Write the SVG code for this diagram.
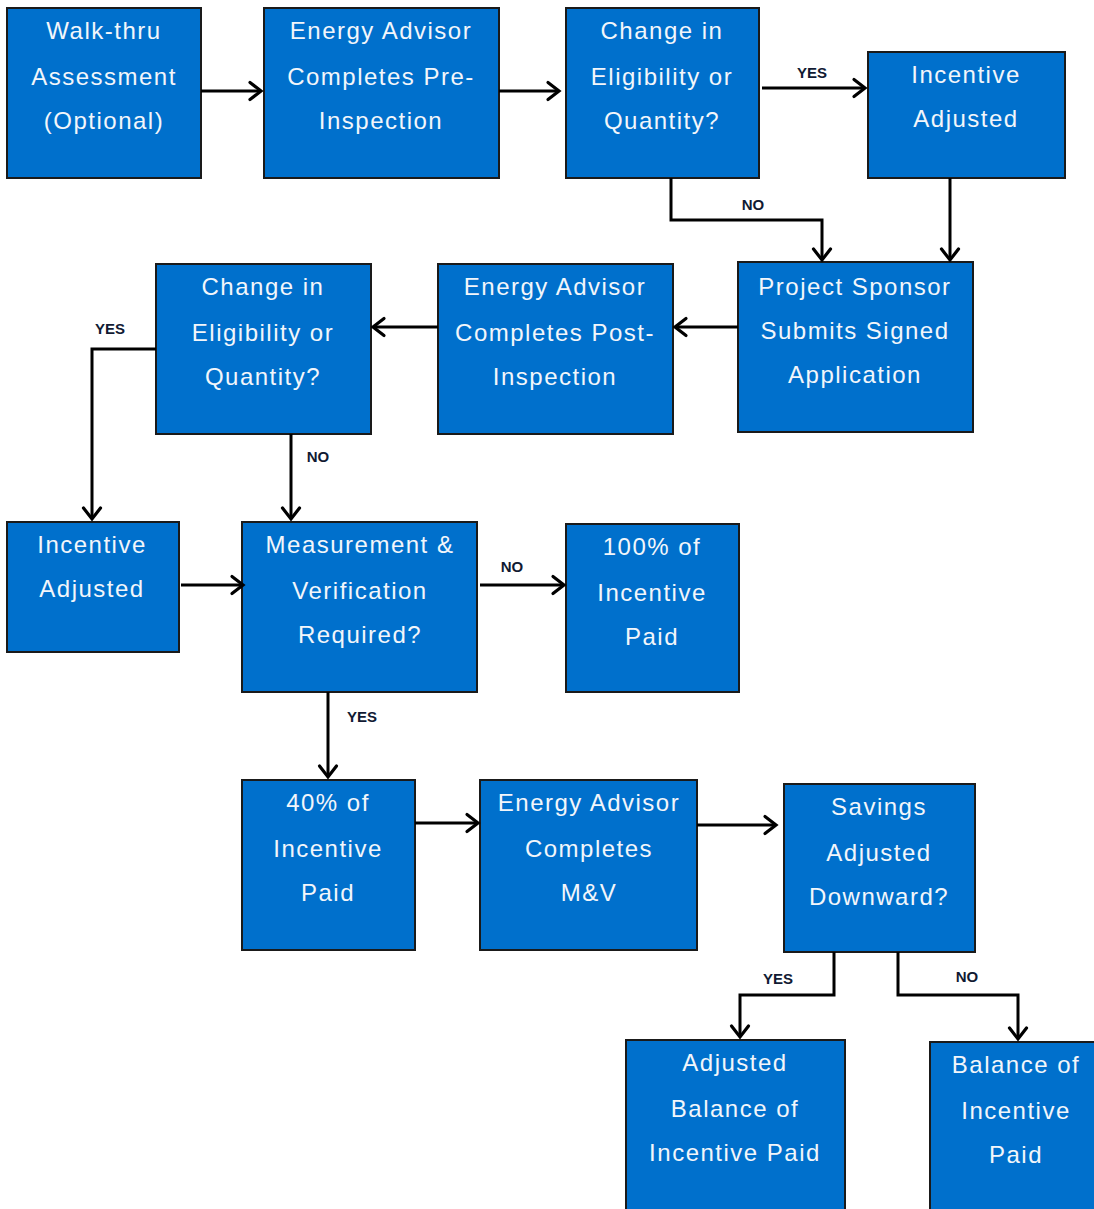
<svg xmlns="http://www.w3.org/2000/svg" width="1094" height="1209" viewBox="0 0 1094 1209">
<defs>
<marker id="arr" markerUnits="userSpaceOnUse" markerWidth="20" markerHeight="20" refX="11" refY="10" orient="auto" overflow="visible">
<polyline points="0,1.5 11,10 0,18.5" fill="none" stroke="#000" stroke-width="3.2" stroke-linecap="round" stroke-linejoin="miter"/>
</marker>
<style>
.box{fill:#0070CC;stroke:#1a1a1a;stroke-width:2}
.t{font-family:"Liberation Sans",Arial,sans-serif;font-size:24px;fill:#f2f6fb;text-anchor:middle;letter-spacing:1.5px}
.c{fill:none;stroke:#000;stroke-width:3;marker-end:url(#arr)}
.l{font-family:"Liberation Sans",Arial,sans-serif;font-size:15px;font-weight:bold;fill:#111a33;text-anchor:middle}
</style>
</defs>
<rect width="1094" height="1209" fill="#fff"/>
<g id="n1"><rect class="box" x="7" y="8" width="194" height="170"/><text class="t" x="104" y="39">Walk-thru</text><text class="t" x="104" y="85">Assessment</text><text class="t" x="104" y="129">(Optional)</text></g>
<g id="n2"><rect class="box" x="264" y="8" width="235" height="170"/><text class="t" x="381" y="39">Energy Advisor</text><text class="t" x="381" y="85">Completes Pre-</text><text class="t" x="381" y="129">Inspection</text></g>
<g id="n3"><rect class="box" x="566" y="8" width="193" height="170"/><text class="t" x="662" y="39">Change in</text><text class="t" x="662" y="85">Eligibility or</text><text class="t" x="662" y="129">Quantity?</text></g>
<g id="n4"><rect class="box" x="868" y="52" width="197" height="126"/><text class="t" x="966" y="83">Incentive</text><text class="t" x="966" y="127">Adjusted</text></g>
<g id="n5"><rect class="box" x="738" y="262" width="235" height="170"/><text class="t" x="855" y="295">Project Sponsor</text><text class="t" x="855" y="339">Submits Signed</text><text class="t" x="855" y="383">Application</text></g>
<g id="n6"><rect class="box" x="438" y="264" width="235" height="170"/><text class="t" x="555" y="295">Energy Advisor</text><text class="t" x="555" y="341">Completes Post-</text><text class="t" x="555" y="385">Inspection</text></g>
<g id="n7"><rect class="box" x="156" y="264" width="215" height="170"/><text class="t" x="263" y="295">Change in</text><text class="t" x="263" y="341">Eligibility or</text><text class="t" x="263" y="385">Quantity?</text></g>
<g id="n8"><rect class="box" x="7" y="522" width="172" height="130"/><text class="t" x="92" y="553">Incentive</text><text class="t" x="92" y="597">Adjusted</text></g>
<g id="n9"><rect class="box" x="242" y="522" width="235" height="170"/><text class="t" x="360" y="553">Measurement &amp;</text><text class="t" x="360" y="599">Verification</text><text class="t" x="360" y="643">Required?</text></g>
<g id="n10"><rect class="box" x="566" y="524" width="173" height="168"/><text class="t" x="652" y="555">100% of</text><text class="t" x="652" y="601">Incentive</text><text class="t" x="652" y="645">Paid</text></g>
<g id="n11"><rect class="box" x="242" y="780" width="173" height="170"/><text class="t" x="328" y="811">40% of</text><text class="t" x="328" y="857">Incentive</text><text class="t" x="328" y="901">Paid</text></g>
<g id="n12"><rect class="box" x="480" y="780" width="217" height="170"/><text class="t" x="589" y="811">Energy Advisor</text><text class="t" x="589" y="857">Completes</text><text class="t" x="589" y="901">M&amp;V</text></g>
<g id="n13"><rect class="box" x="784" y="784" width="191" height="168"/><text class="t" x="879" y="815">Savings</text><text class="t" x="879" y="861">Adjusted</text><text class="t" x="879" y="905">Downward?</text></g>
<g id="n14"><rect class="box" x="626" y="1040" width="219" height="172"/><text class="t" x="735" y="1071">Adjusted</text><text class="t" x="735" y="1117">Balance of</text><text class="t" x="735" y="1161">Incentive Paid</text></g>
<g id="n15"><rect class="box" x="930" y="1042" width="168" height="172"/><text class="t" x="1016" y="1073">Balance of</text><text class="t" x="1016" y="1119">Incentive</text><text class="t" x="1016" y="1163">Paid</text></g>
<g id="connectors">
<path class="c" d="M201,91 H261"/>
<path class="c" d="M499,91 H559"/>
<path class="c" d="M762,88 H865"/>
<path class="c" d="M671,178 V220 H822 V260"/>
<path class="c" d="M950,178 V260"/>
<path class="c" d="M738,327 H675"/>
<path class="c" d="M438,327 H373"/>
<path class="c" d="M156,349 H92 V519"/>
<path class="c" d="M291,434 V519"/>
<path class="c" d="M181,585 H243"/>
<path class="c" d="M480,585 H564"/>
<path class="c" d="M328,692 V777"/>
<path class="c" d="M415,823 H478"/>
<path class="c" d="M697,825 H776"/>
<path class="c" d="M834,952 V995 H740 V1037"/>
<path class="c" d="M898,952 V995 H1018 V1039"/>
<text class="l" x="812" y="78">YES</text>
<text class="l" x="753" y="210">NO</text>
<text class="l" x="110" y="334">YES</text>
<text class="l" x="318" y="462">NO</text>
<text class="l" x="512" y="572">NO</text>
<text class="l" x="362" y="722">YES</text>
<text class="l" x="778" y="984">YES</text>
<text class="l" x="967" y="982">NO</text>
</g>
</svg>
